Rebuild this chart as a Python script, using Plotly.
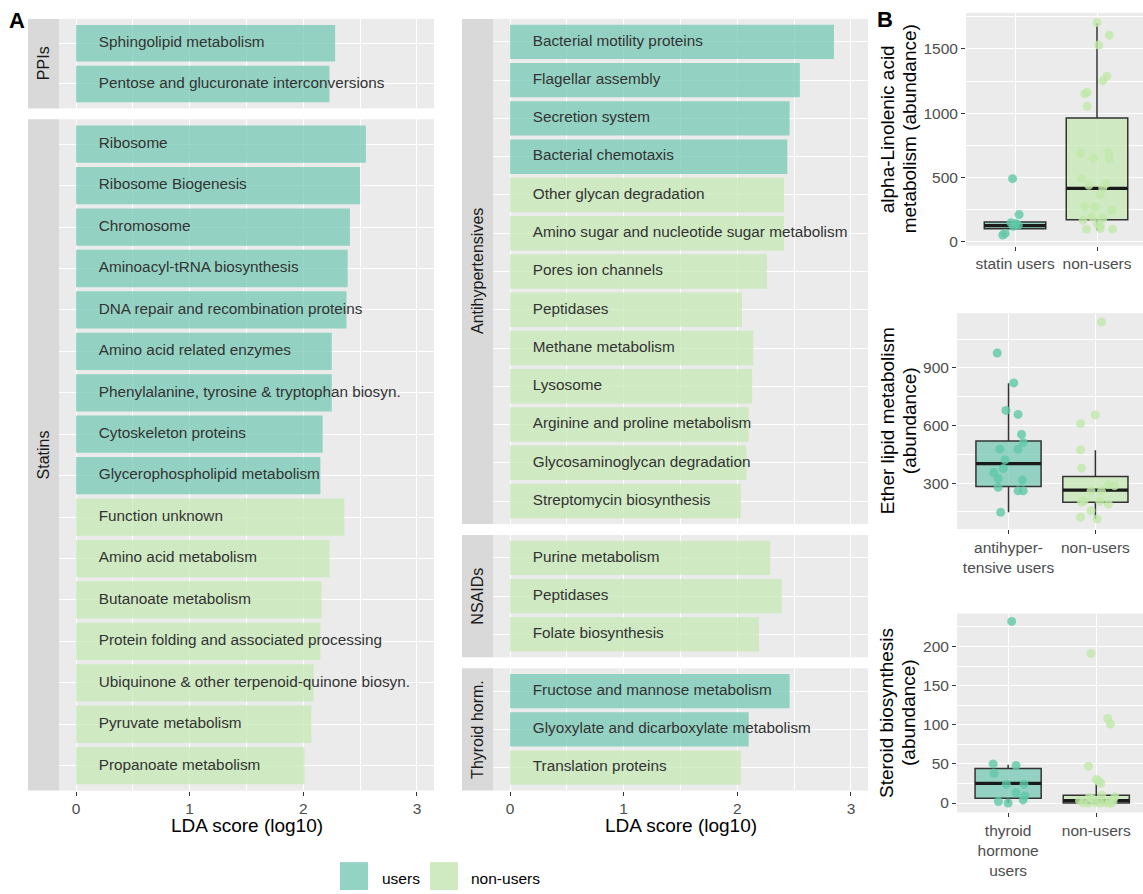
import plotly.graph_objects as go

W, H = 1143, 894
FONT = "Liberation Sans, Arial, sans-serif"

# ---------------- Panel A data ----------------
ppi_names = ["Sphingolipid metabolism", "Pentose and glucuronate interconversions"]
ppi_scores = [2.28, 2.23]
ppi_groups = ["users", "users"]

statin_names = ["Ribosome", "Ribosome Biogenesis", "Chromosome", "Aminoacyl-tRNA biosynthesis",
                "DNA repair and recombination proteins", "Amino acid related enzymes",
                "Phenylalanine, tyrosine & tryptophan biosyn.", "Cytoskeleton proteins",
                "Glycerophospholipid metabolism", "Function unknown", "Amino acid metabolism",
                "Butanoate metabolism", "Protein folding and associated processing",
                "Ubiquinone & other terpenoid-quinone biosyn.", "Pyruvate metabolism",
                "Propanoate metabolism"]
statin_scores = [2.55, 2.50, 2.41, 2.39, 2.38, 2.25, 2.25, 2.17, 2.15,
                 2.36, 2.23, 2.16, 2.15, 2.09, 2.07, 2.01]
statin_groups = ["users"] * 9 + ["non-users"] * 7

antihyp_names = ["Bacterial motility proteins", "Flagellar assembly", "Secretion system",
                 "Bacterial chemotaxis", "Other glycan degradation",
                 "Amino sugar and nucleotide sugar metabolism", "Pores ion channels", "Peptidases",
                 "Methane metabolism", "Lysosome", "Arginine and proline metabolism",
                 "Glycosaminoglycan degradation", "Streptomycin biosynthesis"]
antihyp_scores = [2.85, 2.55, 2.46, 2.44, 2.41, 2.41, 2.26, 2.04, 2.14, 2.13, 2.10, 2.08, 2.03]
antihyp_groups = ["users"] * 4 + ["non-users"] * 9

nsaid_names = ["Purine metabolism", "Peptidases", "Folate biosynthesis"]
nsaid_scores = [2.29, 2.39, 2.19]
nsaid_groups = ["non-users"] * 3

thyroid_names = ["Fructose and mannose metabolism", "Glyoxylate and dicarboxylate metabolism",
                 "Translation proteins"]
thyroid_scores = [2.46, 2.10, 2.03]
thyroid_groups = ["users", "users", "non-users"]

x_ticks = [0, 1, 2, 3]

# ---------------- Panel B data ----------------
b1_labels = ["statin users", "non-users"]
b1_users_vals = [491, 212, 147, 142, 129, 121, 65, 52]
b1_users_jit = [-0.03, 0.05, -0.05, 0.01, 0.04, -0.02, -0.12, -0.15]
b1_non_vals = [1705, 1607, 1530, 1287, 1253, 1163, 1150, 1054, 690, 693, 651, 646, 491, 452,
               439, 419, 367, 276, 271, 245, 194, 168, 181, 142, 129, 98, 103, 98]
b1_non_jit = [0.0, 0.15, 0.02, 0.12, 0.07, -0.12, -0.15, -0.12, -0.20, 0.14, -0.04, 0.15, -0.19,
              0.11, -0.10, 0.07, 0.04, -0.15, -0.02, 0.18, -0.06, -0.17, 0.07, 0.0, 0.04, -0.13,
              0.04, 0.19]
b1_stats = {"q1": [101, 172], "median": [126, 415], "q3": [153, 962],
            "lower": [98, 90], "upper": [158, 1700]}

b2_labels = ["antihyper-<br>tensive users", "non-users"]
b2_users_vals = [978, 822, 679, 658, 554, 511, 477, 477, 421, 376, 355, 324, 316, 278, 260, 260, 148]
b2_users_jit = [-0.13, 0.06, -0.03, 0.11, 0.15, 0.17, -0.10, 0.11, -0.04, -0.06, -0.17, -0.12,
                0.16, -0.12, 0.11, 0.17, -0.09]
b2_non_vals = [1139, 655, 610, 473, 378, 291, 286, 260, 260, 208, 200, 205, 191, 156, 122, 113]
b2_non_jit = [0.07, 0.0, -0.17, -0.17, -0.16, 0.15, 0.22, -0.05, 0.07, -0.13, -0.16, 0.05, 0.15,
              -0.05, -0.17, 0.02]
b2_stats = {"q1": [283, 200], "median": [402, 264], "q3": [520, 335],
            "lower": [148, 115], "upper": [820, 471]}

b3_labels = ["thyroid<br>hormone<br>users", "non-users"]
b3_users_vals = [232, 50, 48, 38, 24, 24, 13, 9, 4, 2, 0]
b3_users_jit = [0.04, -0.17, 0.09, -0.16, -0.02, 0.18, 0.09, 0.19, 0.17, -0.11, 0.0]
b3_non_vals = [191, 108, 101, 47, 30, 28, 25, 10, 8, 7, 5, 3, 2, 1, 0, 0, 0, 0, 0, 1]
b3_non_jit = [-0.06, 0.13, 0.16, -0.09, 0.0, 0.03, 0.05, 0.06, 0.21, -0.08, -0.04, -0.19, 0.19,
              -0.01, -0.15, 0.14, -0.09, 0.04, 0.17, 0.09]
b3_stats = {"q1": [6, 0], "median": [25, 3], "q3": [44, 10],
            "lower": [0, 0], "upper": [49, 24]}

# ---------------- styling ----------------
BAR_COL = {"users": "rgba(112,200,178,0.72)", "non-users": "rgba(196,232,178,0.72)"}
DOT_COL = {"users": "rgba(95,200,168,0.80)", "non-users": "rgba(192,232,170,0.80)"}
KEY_COL = {"users": "#92D3C3", "non-users": "#CFE9C1"}
BOX_FILL = {"users": "rgba(112,200,178,0.72)", "non-users": "rgba(196,232,178,0.72)"}
TICK_COL = "#4D4D4D"
GRID = "white"
LABEL_X = 0.2
BOX_W = 0.75


def xd(a, b):
    return [a / W, b / W]


def yd(t, b):
    return [1 - b / H, 1 - t / H]


fig = go.Figure()
layout = dict(
    width=W, height=H, margin=dict(l=0, r=0, t=0, b=0),
    paper_bgcolor="white", plot_bgcolor="#EBEBEB",
    font=dict(family=FONT, color="#1A1A1A"),
    showlegend=False, shapes=[], annotations=[],
)

facets = [
    # names, scores, groups, x px, y px, strip label, bottom?
    (ppi_names, ppi_scores, ppi_groups, (59, 434), (19, 109), "PPIs", False),
    (statin_names, statin_scores, statin_groups, (59, 434), (120, 795), "Statins", True),
    (antihyp_names, antihyp_scores, antihyp_groups, (493, 868), (19, 527), "Antihypertensives", False),
    (nsaid_names, nsaid_scores, nsaid_groups, (493, 868), (538, 661), "NSAIDs", False),
    (thyroid_names, thyroid_scores, thyroid_groups, (493, 868), (672, 795), "Thyroid horm.", True),
]

for i, (names, scores, groups, (xl, xr), (yt, yb), strip, bottom) in enumerate(facets, start=1):
    xa = "x" if i == 1 else f"x{i}"
    ya = "y" if i == 1 else f"y{i}"
    n = len(names)
    fig.add_trace(go.Bar(
        x=scores, y=names, orientation="h", width=0.9,
        marker=dict(color=[BAR_COL[g] for g in groups], line=dict(width=0)),
        xaxis=xa, yaxis=ya, hoverinfo="skip"))
    fig.add_trace(go.Scatter(
        x=[LABEL_X] * n, y=names, text=names, mode="text", textposition="middle right",
        textfont=dict(family=FONT, size=15.3, color="#333333"),
        xaxis=xa, yaxis=ya, hoverinfo="skip", cliponaxis=False))
    layout[f"xaxis{'' if i == 1 else i}"] = dict(
        domain=xd(xl, xr), anchor=ya, range=[-0.15, 3.15],
        tickvals=x_ticks, showgrid=True, gridcolor=GRID, gridwidth=1.3, zeroline=False,
        minor=dict(tickvals=[0.5, 1.5, 2.5], showgrid=True, gridcolor=GRID, gridwidth=0.6),
        showticklabels=bottom, ticks="outside" if bottom else "", ticklen=4, tickwidth=1.3,
        tickcolor="#333333", tickfont=dict(family=FONT, size=15.5, color=TICK_COL),
        showline=False, fixedrange=True)
    layout[f"yaxis{'' if i == 1 else i}"] = dict(
        domain=yd(yt, yb), anchor=xa, type="category", categoryarray=names,
        range=[n - 0.4, -0.6], showticklabels=False, ticks="", showgrid=True,
        gridcolor=GRID, gridwidth=1.3, zeroline=False, fixedrange=True)
    # strip
    sx0, sx1 = xl - 31, xl
    layout["shapes"].append(dict(type="rect", xref="paper", yref="paper",
                                 x0=sx0 / W, x1=sx1 / W, y0=1 - yb / H, y1=1 - yt / H,
                                 fillcolor="#D9D9D9", line=dict(width=0), layer="below"))
    layout["annotations"].append(dict(
        text=strip, xref="paper", yref="paper", x=(sx0 + sx1) / 2 / W, y=1 - (yt + yb) / 2 / H,
        textangle=-90, showarrow=False, xanchor="center", yanchor="middle",
        font=dict(family=FONT, size=16, color="#1A1A1A")))

# x-axis titles for panel A
for cx in [246.5, 680.5]:
    layout["annotations"].append(dict(
        text="LDA score (log10)", xref="paper", yref="paper", x=cx / W, y=1 - 830 / H,
        showarrow=False, xanchor="center", yanchor="middle",
        font=dict(family=FONT, size=19, color="black")))

# ---------------- Panel B ----------------
bplots = [
    (b1_labels, b1_users_vals, b1_users_jit, b1_non_vals, b1_non_jit, b1_stats,
     (966, 1143), (13, 247), [-0.598, 1.561], [-30, 1780], 500, 250,
     ["alpha-Linolenic acid", "metabolism (abundance)"]),
    (b2_labels, b2_users_vals, b2_users_jit, b2_non_vals, b2_non_jit, b2_stats,
     (957, 1143), (315, 532), [-0.593, 1.548], [61, 1185], 300, 150,
     ["Ether lipid metabolism", "(abundance)"]),
    (b3_labels, b3_users_vals, b3_users_jit, b3_non_vals, b3_non_jit, b3_stats,
     (957, 1143), (617, 817), [-0.58, 1.53], [-12, 242], 50, 25,
     ["Steroid biosynthesis", "(abundance)"]),
]

for k, (labels, uv, uj, nv, nj, st, (xl, xr), (yt, yb), xr_, yr_, dt, mdt, ttl) in enumerate(bplots):
    i = 6 + k
    xa, ya = f"x{i}", f"y{i}"
    for gi, grp in enumerate(["users", "non-users"]):
        fig.add_trace(go.Box(
            x=[gi], q1=[st["q1"][gi]], median=[st["median"][gi]], q3=[st["q3"][gi]],
            lowerfence=[st["lower"][gi]], upperfence=[st["upper"][gi]],
            width=BOX_W, whiskerwidth=0, boxpoints=False, fillcolor=BOX_FILL[grp],
            line=dict(color="#333333", width=1.5), xaxis=xa, yaxis=ya, hoverinfo="skip"))
        fig.add_trace(go.Scatter(
            x=[gi - BOX_W / 2, gi + BOX_W / 2], y=[st["median"][gi]] * 2, mode="lines",
            line=dict(color="#1A1A1A", width=3.2), xaxis=xa, yaxis=ya, hoverinfo="skip"))
    for gi, (vals, jit, grp) in enumerate([(uv, uj, "users"), (nv, nj, "non-users")]):
        fig.add_trace(go.Scatter(
            x=[gi + j for j in jit], y=vals, mode="markers",
            marker=dict(size=9, color=DOT_COL[grp], line=dict(width=0)),
            xaxis=xa, yaxis=ya, hoverinfo="skip", cliponaxis=True))
    layout[f"xaxis{i}"] = dict(
        domain=xd(xl, xr), anchor=ya, range=xr_, tickvals=[0, 1], ticktext=labels,
        showgrid=True, gridcolor=GRID, gridwidth=1.3, zeroline=False, ticks="outside",
        ticklen=4, tickwidth=1.3, tickcolor="#333333",
        tickfont=dict(family=FONT, size=15.5, color=TICK_COL), fixedrange=True)
    layout[f"yaxis{i}"] = dict(
        domain=yd(yt, yb), anchor=xa, range=yr_, tick0=0, dtick=dt,
        showgrid=True, gridcolor=GRID, gridwidth=1.3, zeroline=False, ticks="outside",
        ticklen=4, tickwidth=1.3, tickcolor="#333333",
        minor=dict(dtick=mdt, tick0=0, showgrid=True, gridcolor=GRID, gridwidth=0.6),
        tickfont=dict(family=FONT, size=15.5, color=TICK_COL), fixedrange=True)
    cy = (yt + yb) / 2
    for li, (line, lx) in enumerate(zip(ttl, [887, 909])):
        layout["annotations"].append(dict(
            text=line, xref="paper", yref="paper", x=lx / W, y=1 - cy / H, textangle=-90,
            showarrow=False, xanchor="center", yanchor="middle",
            font=dict(family=FONT, size=19, color="black")))

# panel letters
for txt, px, py in [("A", 17, 21), ("B", 885, 20)]:
    layout["annotations"].append(dict(
        text=f"<b>{txt}</b>", xref="paper", yref="paper", x=px / W, y=1 - py / H,
        showarrow=False, xanchor="center", yanchor="middle",
        font=dict(family=FONT, size=22, color="black")))

# legend (manual keys)
for grp, x0, tx in [("users", 340, 380), ("non-users", 430, 469)]:
    layout["shapes"].append(dict(type="rect", xref="paper", yref="paper",
                                 x0=x0 / W, x1=(x0 + 28) / W, y0=1 - 895 / H, y1=1 - 867 / H,
                                 fillcolor=KEY_COL[grp], line=dict(width=0)))
    layout["annotations"].append(dict(
        text=grp, xref="paper", yref="paper", x=tx / W, y=1 - 883 / H, showarrow=False,
        xanchor="left", yanchor="middle", font=dict(family=FONT, size=15.5, color="black")))

fig.update_layout(**layout)

post = (
    "document.documentElement.style.margin='0';document.documentElement.style.overflow='hidden';"
    "document.body.style.margin='0';document.body.style.padding='0';"
    "document.body.style.overflow='hidden';"
)
fig.write_html("out.html", config={"displayModeBar": False}, post_script=post)
